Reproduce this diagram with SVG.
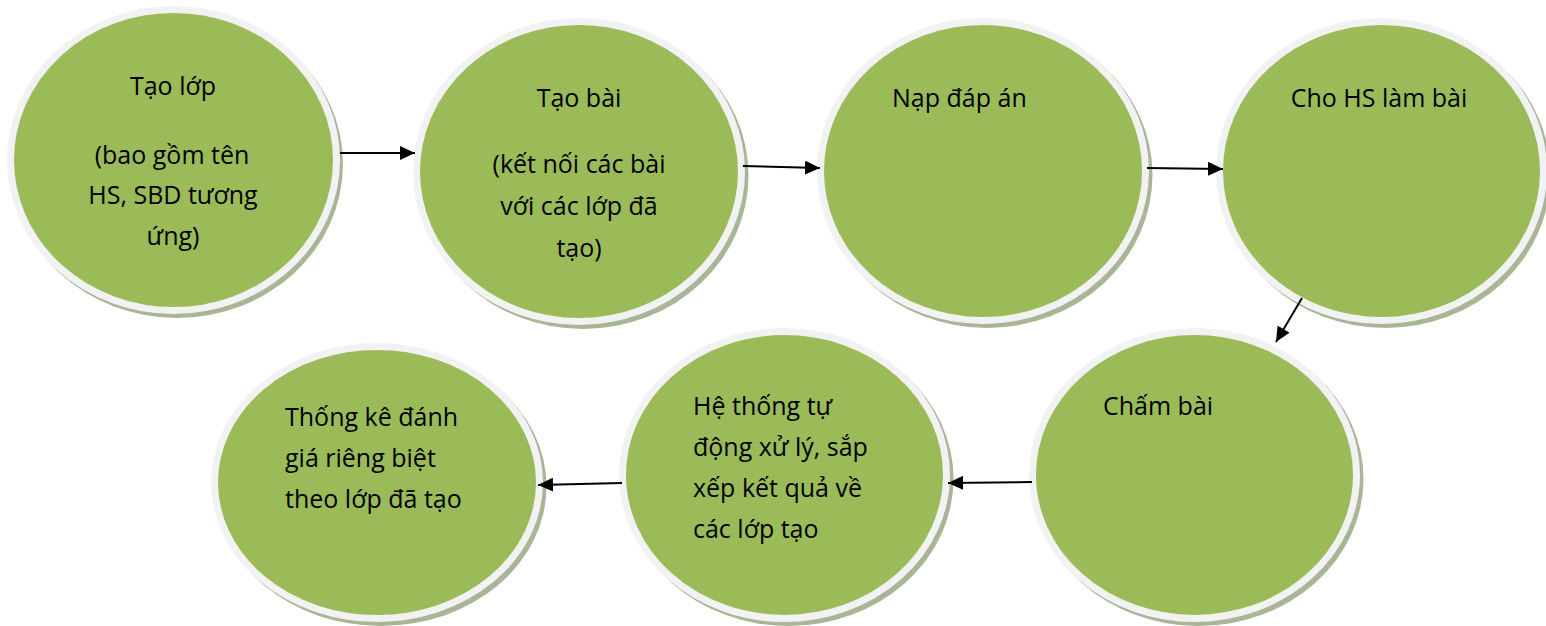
<svg xmlns="http://www.w3.org/2000/svg" width="1546" height="626" viewBox="0 0 1546 626">
<style>
.sh{fill:#A8B596}
.nd{fill:#9BBB59;stroke:#F2F2F2;stroke-width:7}
.t{font-family:"Open Sans","Noto Sans","DejaVu Sans",sans-serif;font-size:25px;fill:#000}
.c{text-anchor:middle}
.ln{stroke:#000;stroke-width:2;fill:none;marker-end:url(#ah)}
</style>
<defs>
<marker id="ah" markerUnits="userSpaceOnUse" markerWidth="16" markerHeight="14" refX="15" refY="7" orient="auto">
<path d="M0,0 L15,7 L0,14 Z" fill="#000"/>
</marker>
</defs>
<rect width="1546" height="626" fill="#fff"/>
<g id="node1">
<ellipse class="sh" cx="177" cy="164" rx="166" ry="154"/>
<ellipse class="nd" cx="173.5" cy="160" rx="163" ry="150.5"/>
<text class="t c" x="173" y="95">Tạo lớp</text>
<text class="t c" x="172" y="164">(bao gồm tên</text>
<text class="t c" x="173" y="204">HS, SBD tương</text>
<text class="t c" x="173" y="245">ứng)</text>
</g>
<g id="node2">
<ellipse class="sh" cx="583" cy="175.5" rx="165.5" ry="153.5"/>
<ellipse class="nd" cx="579" cy="171.5" rx="162.5" ry="150"/>
<text class="t c" x="579" y="107">Tạo bài</text>
<text class="t c" x="579" y="173">(kết nối các bài</text>
<text class="t c" x="579" y="215">với các lớp đã</text>
<text class="t c" x="579" y="257">tạo)</text>
</g>
<g id="node3">
<ellipse class="sh" cx="987" cy="175" rx="165.5" ry="153"/>
<ellipse class="nd" cx="983" cy="171" rx="162.5" ry="149.5"/>
<text class="t" x="892" y="107">Nạp đáp án</text>
</g>
<g id="node4">
<ellipse class="sh" cx="1385.5" cy="175" rx="165" ry="153"/>
<ellipse class="nd" cx="1381.5" cy="171" rx="162" ry="149.5"/>
<text class="t c" x="1379" y="107">Cho HS làm bài</text>
</g>
<g id="node5">
<ellipse class="sh" cx="1198.5" cy="479" rx="165" ry="147"/>
<ellipse class="nd" cx="1194.5" cy="475" rx="162" ry="143.5"/>
<text class="t" x="1103" y="415">Chấm bài</text>
</g>
<g id="node6">
<ellipse class="sh" cx="788.5" cy="479" rx="165" ry="147"/>
<ellipse class="nd" cx="784.5" cy="475" rx="162" ry="143.5"/>
<text class="t" x="693" y="415">Hệ thống tự</text>
<text class="t" x="693" y="456">động xử lý, sắp</text>
<text class="t" x="693" y="497">xếp kết quả về</text>
<text class="t" x="693" y="538">các lớp tạo</text>
</g>
<g id="node7">
<ellipse class="sh" cx="381" cy="486.5" rx="165.5" ry="139.5"/>
<ellipse class="nd" cx="377" cy="482.5" rx="162.5" ry="136"/>
<text class="t" x="285" y="426">Thống kê đánh</text>
<text class="t" x="285" y="467">giá riêng biệt</text>
<text class="t" x="285" y="508">theo lớp đã tạo</text>
</g>
<g id="connectors">
<line class="ln" x1="340" y1="153" x2="415" y2="153"/>
<line class="ln" x1="743" y1="166" x2="820" y2="168"/>
<line class="ln" x1="1147" y1="168" x2="1223" y2="169"/>
<line class="ln" x1="1302" y1="298" x2="1276" y2="342"/>
<line class="ln" x1="1032" y1="482" x2="948" y2="483"/>
<line class="ln" x1="622" y1="483" x2="538" y2="485"/>
</g>
</svg>
